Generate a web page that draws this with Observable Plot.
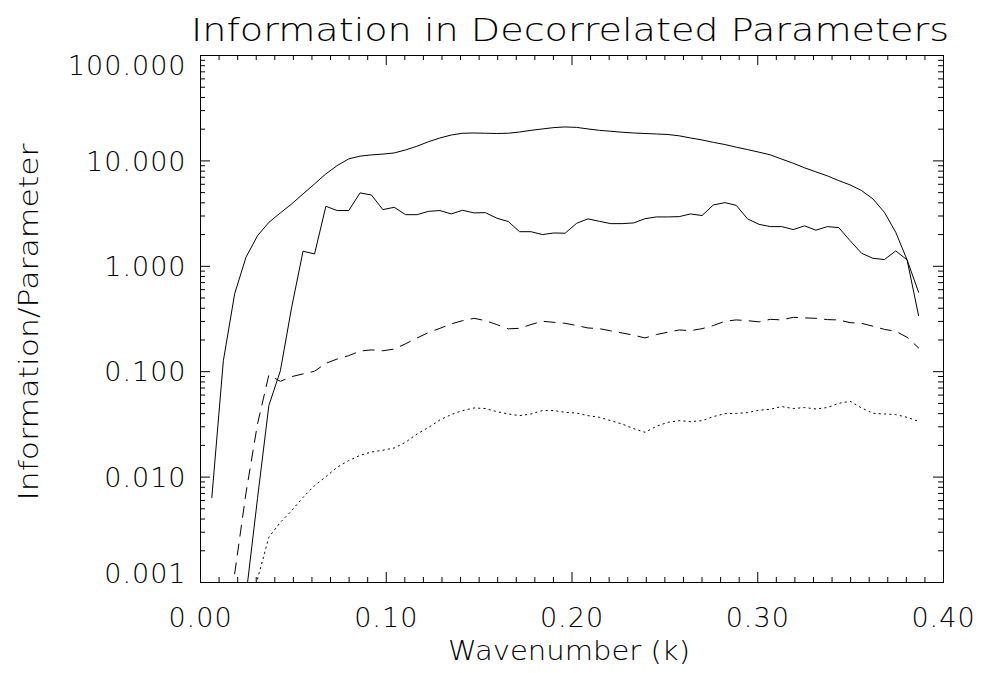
<!DOCTYPE html>
<html>
<head>
<meta charset="utf-8">
<script src="https://cdn.jsdelivr.net/npm/d3@7"></script>
<script src="https://cdn.jsdelivr.net/npm/@observablehq/plot@0.6"></script>
<style>
  html, body { margin: 0; padding: 0; background: #fff; }
  #chart svg { display: block; }
  #chart svg text { font-family: "DejaVu Sans ExtraLight", "DejaVu Sans", sans-serif; font-weight: 200; letter-spacing: 1px; }
</style>
</head>
<body>
<div id="chart"></div>
<script>
// Wavenumber samples (k)
const k = [0.0061,0.0123,0.0184,0.0245,0.0307,0.0368,0.0430,0.0491,0.0552,0.0614,
  0.0675,0.0736,0.0798,0.0859,0.0920,0.0982,0.1043,0.1104,0.1166,0.1227,
  0.1289,0.1350,0.1411,0.1473,0.1534,0.1595,0.1657,0.1718,0.1779,0.1841,
  0.1902,0.1963,0.2025,0.2086,0.2148,0.2209,0.2270,0.2332,0.2393,0.2454,
  0.2516,0.2577,0.2638,0.2700,0.2761,0.2823,0.2884,0.2945,0.3007,0.3068,
  0.3129,0.3191,0.3252,0.3313,0.3375,0.3436,0.3497,0.3559,0.3620,0.3682,
  0.3743,0.3804,0.3866];

// Upper solid curve
const solidUpper = [0.0064,0.127,0.55,1.22,1.95,2.61,3.21,3.91,4.86,6.05,
  7.53,9.03,10.45,11.1,11.4,11.6,11.9,12.7,13.8,15.2,
  16.5,17.6,18.3,18.4,18.3,18.2,18.3,18.8,19.5,20.1,
  20.7,21.0,20.8,20.1,19.5,19.1,18.7,18.4,18.2,18.0,
  17.8,17.3,16.5,15.8,15.0,14.3,13.5,12.8,12.1,11.4,
  10.4,9.5,8.6,7.87,7.21,6.5,5.92,5.23,4.36,3.25,
  2.10,1.15,0.34];

// Lower solid curve
const solidLower = [null,null,null,0.00075,0.0063,0.0477,0.102,0.41,1.39,1.31,
  3.71,3.38,3.38,4.97,4.75,3.45,3.63,3.09,3.09,3.32,
  3.38,3.14,3.40,3.21,3.23,2.86,2.66,2.13,2.13,2.00,
  2.07,2.06,2.56,2.82,2.67,2.54,2.54,2.58,2.83,2.94,
  2.94,2.96,3.14,3.03,3.82,4.02,3.79,2.82,2.50,2.38,
  2.38,2.23,2.42,2.20,2.38,2.33,1.75,1.33,1.19,1.16,
  1.40,1.15,0.567];

// Dashed curve
const dashed = [null,null,0.00121,0.0071,0.032,0.093,0.081,0.0898,0.0953,0.101,
  0.120,0.132,0.142,0.157,0.161,0.158,0.164,0.184,0.209,0.235,
  0.258,0.284,0.305,0.321,0.305,0.280,0.255,0.258,0.280,0.301,
  0.294,0.288,0.274,0.260,0.256,0.244,0.233,0.222,0.209,0.225,
  0.237,0.249,0.245,0.256,0.274,0.301,0.310,0.305,0.297,0.314,
  0.310,0.328,0.324,0.321,0.312,0.310,0.292,0.288,0.270,0.252,
  0.242,0.212,0.168];

// Dotted curve
const dotted = [null,null,null,null,0.00108,0.00269,0.00372,0.00481,0.00643,0.0083,
  0.0101,0.0124,0.01435,0.0161,0.0173,0.0180,0.0189,0.0214,0.0257,0.0295,
  0.0349,0.0392,0.0428,0.0453,0.0447,0.0418,0.0397,0.0383,0.0397,0.0428,
  0.0428,0.0412,0.0405,0.0383,0.0369,0.0343,0.0319,0.0288,0.0266,0.0303,
  0.0331,0.0343,0.0336,0.0343,0.0375,0.0400,0.0402,0.0409,0.0431,0.0440,
  0.0467,0.0447,0.0457,0.0443,0.0457,0.0501,0.0524,0.0453,0.0403,0.0397,
  0.0392,0.0369,0.0338];

// Axis ticks and labels
const xMajor = [0, 0.1, 0.2, 0.3, 0.4];
const xMajorLabels = ["0.00", "0.10", "0.20", "0.30", "0.40"];
const xMinor = [0.01,0.02,0.03,0.04,0.05,0.06,0.07,0.08,0.09,
  0.11,0.12,0.13,0.14,0.15,0.16,0.17,0.18,0.19,
  0.21,0.22,0.23,0.24,0.25,0.26,0.27,0.28,0.29,
  0.31,0.32,0.33,0.34,0.35,0.36,0.37,0.38,0.39];
const yMajor = [0.001, 0.01, 0.1, 1, 10, 100];
const yMajorLabels = ["0.001", "0.010", "0.100", "1.000", "10.000", "100.000"];
const yMinor = [0.002,0.003,0.004,0.005,0.006,0.007,0.008,0.009,
  0.02,0.03,0.04,0.05,0.06,0.07,0.08,0.09,
  0.2,0.3,0.4,0.5,0.6,0.7,0.8,0.9,
  2,3,4,5,6,7,8,9,
  20,30,40,50,60,70,80,90];

const titleText = "Information in Decorrelated Parameters";
const xTitle = "Wavenumber (k)";
const yTitle = "Information/Parameter";

const W = 982, H = 673;
const mL = 200, mR = 39, mT = 55, mB = 91;
const iW = W - mL - mR, iH = H - mT - mB;
const majLen = 10, minLen = 5;
const fs = 27;

const rows = k.map((kk, i) => ({k: kk, a: solidUpper[i], b: solidLower[i], c: dashed[i], d: dotted[i]}));

const chart = Plot.plot({
  width: W, height: H,
  marginLeft: mL, marginRight: mR, marginTop: mT, marginBottom: mB,
  x: {domain: [0, 0.4], axis: null},
  y: {type: "log", domain: [0.001, 100], axis: null},
  style: {background: "#fff", color: "#000"},
  marks: [
    Plot.frame({stroke: "#000", strokeWidth: 1}),
    // ticks, inward on four sides
    Plot.tickX(xMajor, {x: d => d, insetTop: iH - majLen, stroke: "#000"}),
    Plot.tickX(xMajor, {x: d => d, insetBottom: iH - majLen, stroke: "#000"}),
    Plot.tickX(xMinor, {x: d => d, insetTop: iH - minLen, stroke: "#000"}),
    Plot.tickX(xMinor, {x: d => d, insetBottom: iH - minLen, stroke: "#000"}),
    Plot.tickY(yMajor, {y: d => d, insetRight: iW - majLen, stroke: "#000"}),
    Plot.tickY(yMajor, {y: d => d, insetLeft: iW - majLen, stroke: "#000"}),
    Plot.tickY(yMinor, {y: d => d, insetRight: iW - minLen, stroke: "#000"}),
    Plot.tickY(yMinor, {y: d => d, insetLeft: iW - minLen, stroke: "#000"}),
    // tick labels
    Plot.text(xMajor, {x: d => d, text: (d, i) => xMajorLabels[i], frameAnchor: "bottom", lineAnchor: "top", dy: 25, fontSize: fs, fill: "#000"}),
    Plot.text(yMajor.slice(1, 5), {y: d => d, text: (d, i) => yMajorLabels[i + 1], frameAnchor: "left", textAnchor: "end", lineAnchor: "middle", dx: -14, dy: 1, fontSize: fs, fill: "#000"}),
    Plot.text(yMajor.slice(5), {y: d => d, text: () => yMajorLabels[5], frameAnchor: "left", textAnchor: "end", lineAnchor: "top", dx: -14, fontSize: fs, fill: "#000"}),
    Plot.text(yMajor.slice(0, 1), {y: d => d, text: () => yMajorLabels[0], frameAnchor: "left", textAnchor: "end", lineAnchor: "bottom", dx: -14, fontSize: fs, fill: "#000"}),
    // titles
    Plot.text([titleText], {text: d => d, frameAnchor: "top", textAnchor: "middle", lineAnchor: "bottom", dy: -15, dx: -2, fontSize: 32, fill: "#000", className: "ttl-main"}),
    Plot.text([xTitle], {text: d => d, frameAnchor: "bottom", textAnchor: "middle", lineAnchor: "bottom", dy: 77, dx: -3, fontSize: fs, fill: "#000", className: "ttl-x"}),
    Plot.text([yTitle], {text: d => d, frameAnchor: "left", textAnchor: "middle", lineAnchor: "bottom", rotate: -90, dx: -163, dy: 3, fontSize: fs, fill: "#000", className: "ttl-y"}),
    // curves
    Plot.line(rows, {x: "k", y: "a", stroke: "#000", strokeWidth: 1, clip: true}),
    Plot.line(rows, {x: "k", y: "b", stroke: "#000", strokeWidth: 1, clip: true}),
    Plot.line(rows, {x: "k", y: "c", stroke: "#000", strokeWidth: 1, strokeDasharray: "11,8", clip: true}),
    Plot.line(rows, {x: "k", y: "d", stroke: "#000", strokeWidth: 1, strokeDasharray: "1.3,4", clip: true})
  ]
});

// stretch the titles to the width of the reference's stroked font
const fit = {"ttl-main": 758, "ttl-x": 242, "ttl-y": 357};
for (const [cls, len] of Object.entries(fit)) {
  d3.select(chart).selectAll(`g.${cls} text`)
    .attr("textLength", len)
    .attr("lengthAdjust", "spacingAndGlyphs")
    .style("letter-spacing", "0px");
}

document.getElementById("chart").appendChild(chart);
</script>
</body>
</html>
